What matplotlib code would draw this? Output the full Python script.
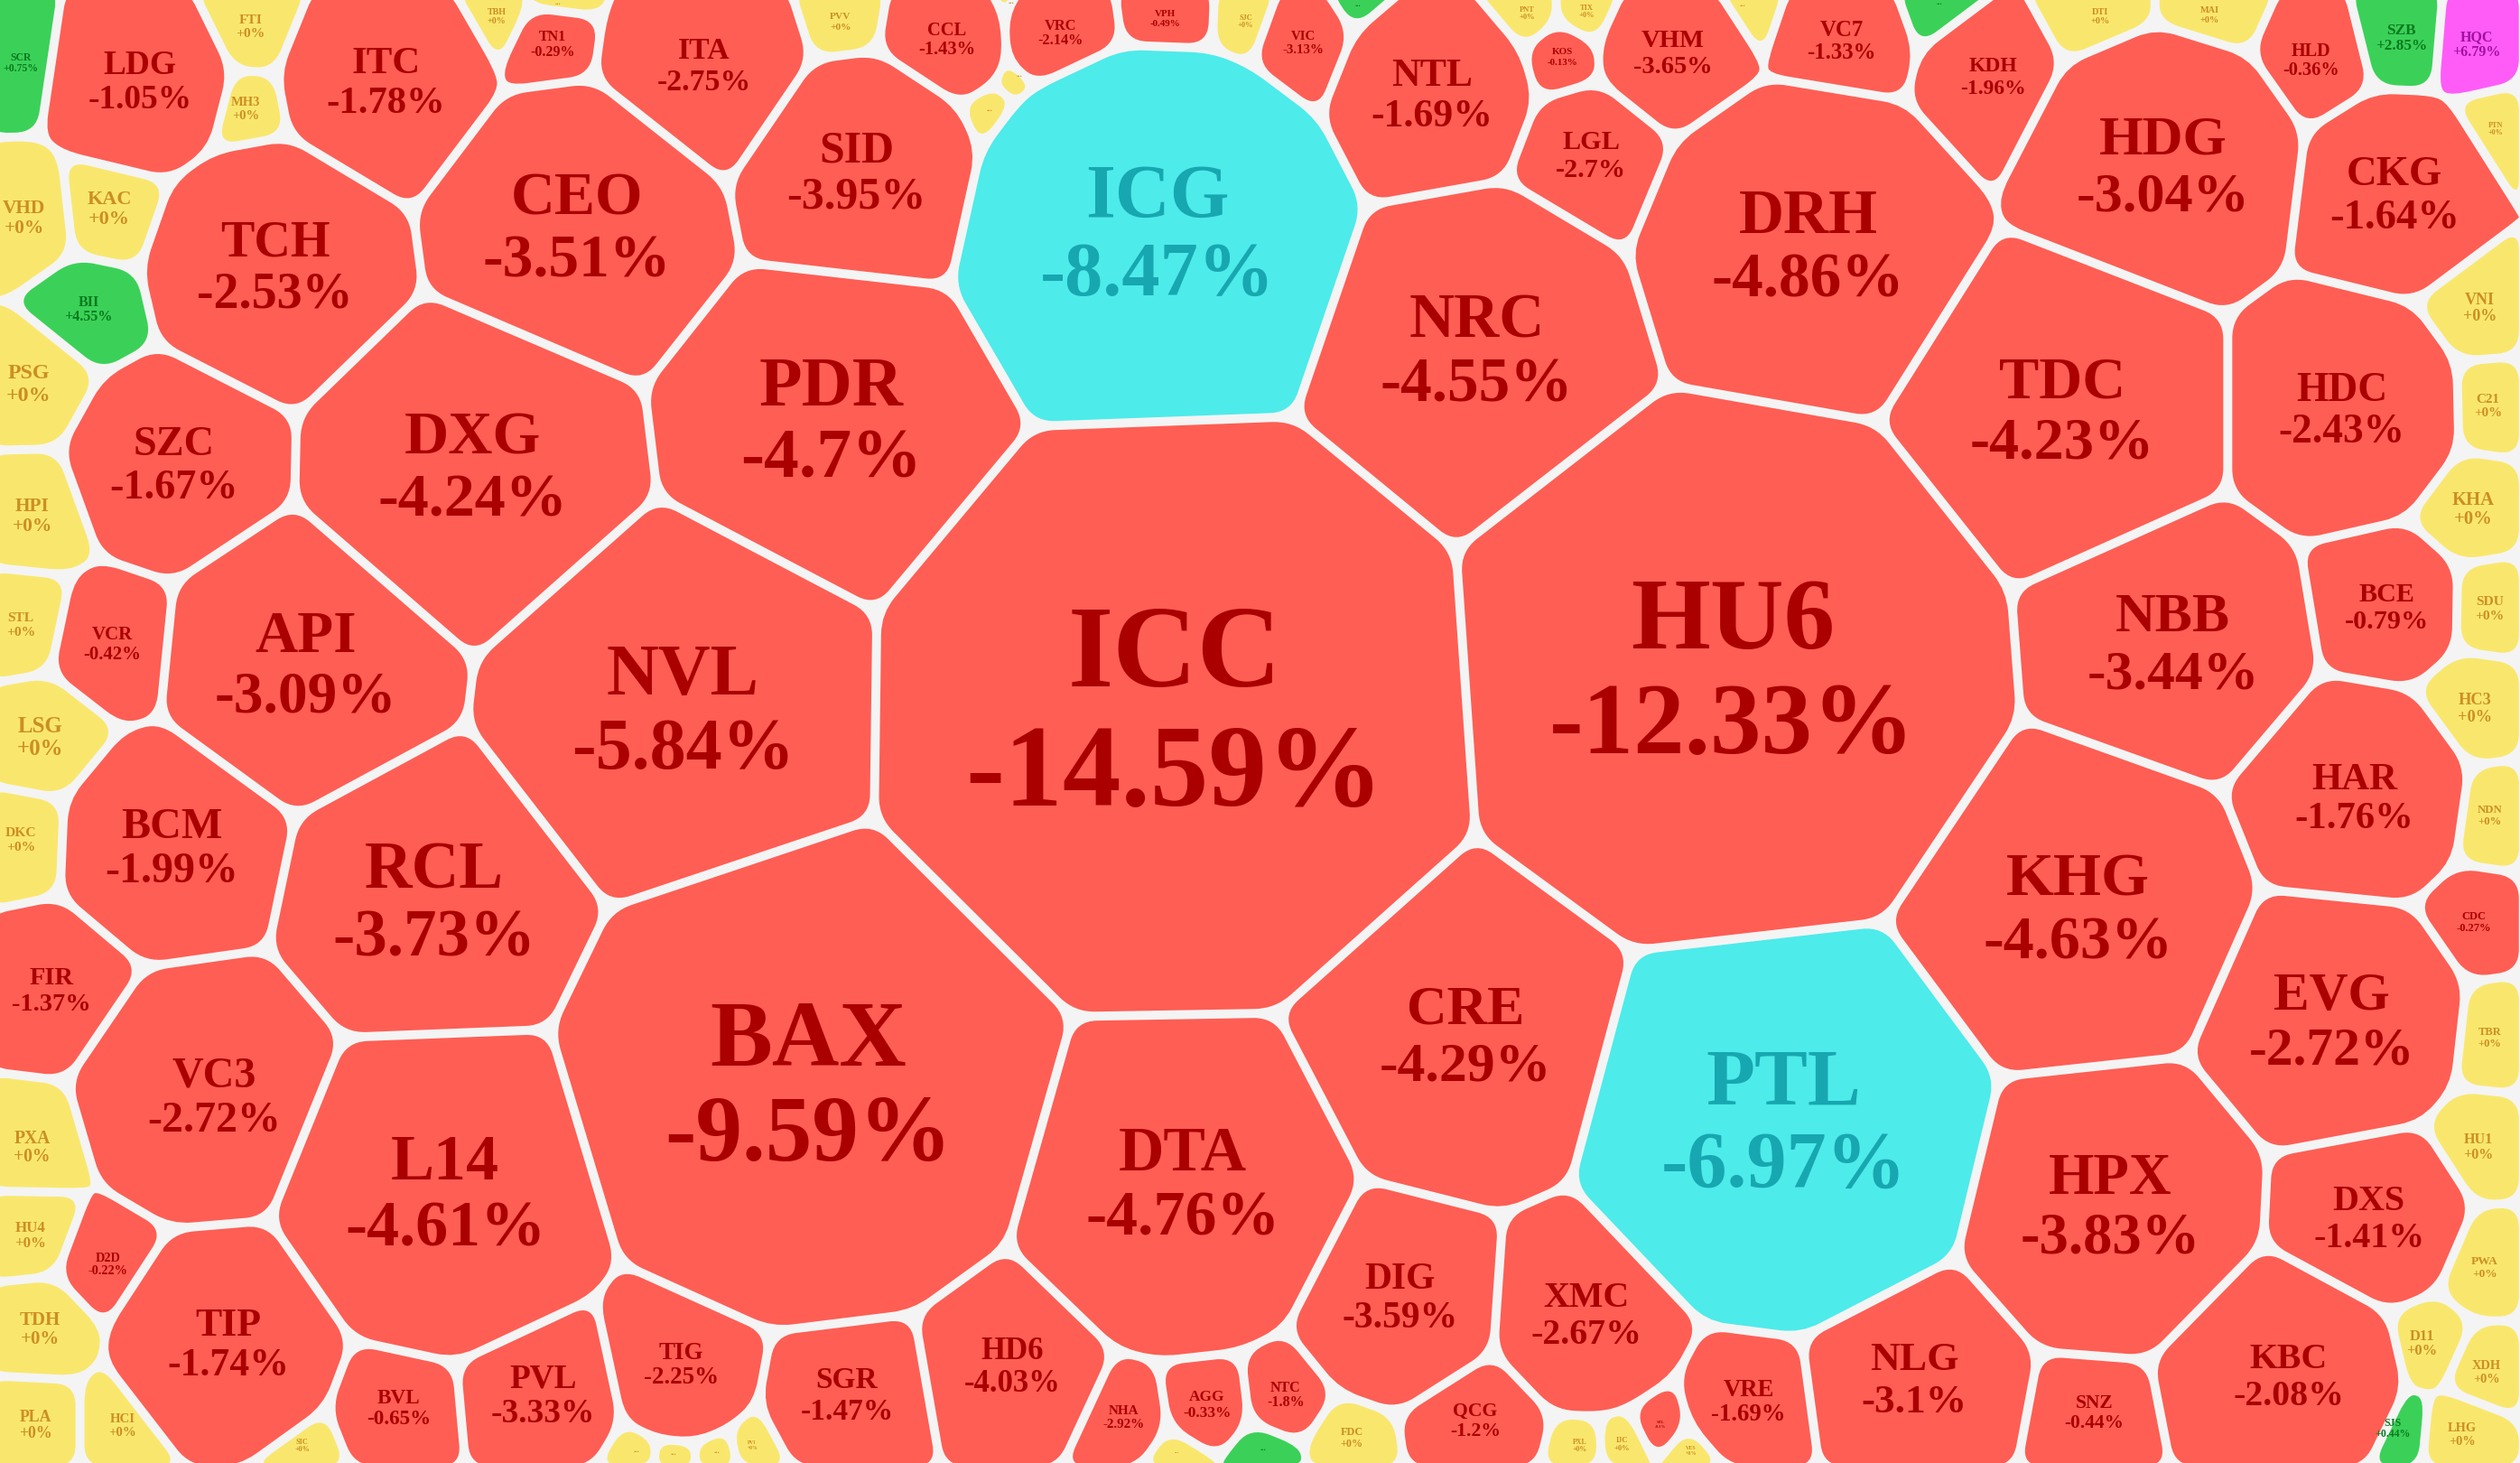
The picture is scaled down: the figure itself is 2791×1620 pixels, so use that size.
import numpy as np
import matplotlib
matplotlib.use("Agg")
import matplotlib.pyplot as plt
from matplotlib.path import Path
from matplotlib.patches import PathPatch

# coordinates below are on a 1568 x 910 sheet, scaled to the 2791 x 1620 output
SHEET_W, SHEET_H = 1568, 910
GAP = 5.6
CORNER = 13

TICKERS = [
    "SCR", "LDG", "FTI", "MH3", "ITC", "TBH", "TN1", "...", "ITA", "PVV", "CCL", "...", "VRC", "...", "...",
    "VPH", "SJC", "VIC", "...", "NTL", "PNT", "TIX", "KOS", "LGL", "VHM", "...", "VC7", "...", "KDH", "DTI",
    "MAI", "HLD", "SZB", "HQC", "PTN", "CKG", "HDG", "DRH", "NRC", "ICG", "SID", "CEO", "TCH", "BII", "VHD",
    "KAC", "PSG", "SZC", "DXG", "PDR", "HPI", "STL", "VCR", "API", "NVL", "ICC", "HU6", "TDC", "HDC", "VNI",
    "C21", "NBB", "BCE", "KHA", "SDU", "HC3", "NDN", "HAR", "KHG", "CDC", "EVG", "TBR", "HU1", "PTL", "CRE",
    "DTA", "BAX", "L14", "RCL", "BCM", "LSG", "DKC", "FIR", "VC3", "PXA", "HU4", "D2D", "TDH", "TIP", "PLA",
    "HCI", "SIC", "BVL", "PVL", "TIG", "...", "...", "...", "PVI", "SGR", "HD6", "NHA", "AGG", "NTC", "...",
    "...", "FDC", "QCG", "DIG", "XMC", "PXL", "IJC", "SZL", "VES", "VRE", "NLG", "SNZ", "KBC", "HPX", "DXS",
    "D11", "PWA", "XDH", "LHG", "SJS",
]

CHANGES = [
    0.75, -1.05, 0, 0, -1.78, 0, -0.29, 0, -2.75, 0, -1.43, 0, -2.14, 0, 0,
    -0.49, 0, -3.13, 0.1, -1.69, 0, 0, -0.13, -2.7, -3.65, 0, -1.33, 0.1, -1.96, 0,
    0, -0.36, 2.85, 6.79, 0, -1.64, -3.04, -4.86, -4.55, -8.47, -3.95, -3.51, -2.53, 4.55, 0,
    0, 0, -1.67, -4.24, -4.7, 0, 0, -0.42, -3.09, -5.84, -14.59, -12.33, -4.23, -2.43, 0,
    0, -3.44, -0.79, 0, 0, 0, 0, -1.76, -4.63, -0.27, -2.72, 0, 0, -6.97, -4.29,
    -4.76, -9.59, -4.61, -3.73, -1.99, 0, 0, -1.37, -2.72, 0, 0, -0.22, 0, -1.74, 0,
    0, 0, -0.65, -3.33, -2.25, 0, 0, 0, 0, -1.47, -4.03, -2.92, -0.33, -1.8, 0,
    0.1, 0, -1.2, -3.59, -2.67, 0, 0, -0.1, 0, -1.69, -3.1, -0.44, -2.08, -3.83, -1.41,
    0, 0, 0, 0, 0.44,
]

FLOOR_TICKERS = ["ICG", "PTL"]
CEILING_TICKERS = ["HQC"]

# label x, label y, font size, cell radius
LAYOUT = [
    (13, 39, 6.6, 15), (87, 50, 21, 55), (156, 16, 8.7, 24), (153, 67, 8.2, 17), (240, 50, 24, 64),
    (309, 10, 5.6, 13), (344, 27, 9, 22), (347, 3, 5, 9), (438, 40, 19, 64), (523, 13, 6.4, 20),
    (589, 24, 11.5, 38), (629, 2, 5, 6), (660, 20, 9.2, 36), (634, 48, 5, 8), (616, 69, 5, 8),
    (725, 11, 6.2, 28), (775, 13, 4.7, 17), (811, 26, 8.4, 28), (845, 4, 5, 8), (891, 58, 24.6, 60),
    (950, 8, 4.7, 14), (987, 7, 4.7, 14), (972, 35, 6.2, 17), (990, 96, 17, 40), (1041, 32, 16, 44),
    (1084, 4, 5, 7), (1146, 25, 14, 36), (1207, 3, 5, 7), (1240, 47, 13.3, 38), (1307, 10, 5.8, 28),
    (1375, 9, 5.8, 28), (1438, 37, 11.4, 32), (1494, 23, 9.7, 24), (1541, 27, 9, 24), (1553, 80, 4.6, 13),
    (1490, 120, 26.3, 60), (1346, 102, 35, 85), (1125, 152, 39, 100), (919, 217, 39, 97), (720, 144, 47.4, 120),
    (533, 106, 28, 72), (359, 140, 38, 88), (171, 165, 31.5, 76), (55, 192, 9, 18), (15, 135, 12, 24),
    (68, 129, 12.5, 22), (18, 238, 13.5, 24), (108, 288, 26, 60), (294, 289, 38.3, 100), (517, 260, 43.7, 100),
    (20, 320, 12, 22), (13, 388, 8.7, 18), (70, 400, 11.7, 30), (190, 412, 36.7, 85), (425, 440, 45, 118),
    (731, 440, 72.6, 185), (1078, 415, 63.5, 170), (1283, 254, 37.3, 100), (1457, 254, 25.6, 72), (1543, 191, 10.1, 23),
    (1548, 252, 8.5, 17), (1352, 399, 34.7, 85), (1485, 377, 16.9, 42), (1539, 316, 11.6, 22), (1549, 378, 8.7, 16),
    (1540, 440, 10.3, 22), (1549, 507, 7.2, 16), (1465, 495, 24, 68), (1293, 564, 38.3, 105), (1539, 573, 7, 18),
    (1451, 634, 33.4, 80), (1549, 645, 7, 15), (1542, 713, 9, 18), (1110, 696, 49.6, 128), (912, 643, 34.7, 98),
    (736, 735, 39.2, 104), (503, 673, 58, 153), (277, 741, 40.5, 104), (270, 560, 41, 90), (107, 526, 27, 65),
    (25, 458, 14, 25), (13, 522, 8.7, 15), (32, 615, 16, 42), (133, 681, 27, 78), (20, 713, 11, 22),
    (19, 768, 9.5, 20), (67, 786, 8, 24), (25, 826, 11.7, 25), (142, 835, 24.6, 70), (22, 886, 10, 22),
    (76, 886, 8.4, 20), (188, 899, 4.6, 15), (248, 875, 13, 38), (338, 867, 21, 50), (424, 848, 15.2, 48),
    (396, 903, 5, 8), (419, 905, 5, 8), (446, 904, 5, 8), (468, 899, 3.1, 9), (527, 867, 18.8, 50),
    (630, 849, 19.5, 55), (699, 881, 8.5, 24), (751, 873, 9.7, 24), (800, 867, 9, 24), (732, 904, 4, 8),
    (786, 902, 5, 12), (841, 894, 6.8, 20), (918, 883, 12.2, 42), (871, 806, 23.4, 66), (987, 817, 22.4, 62),
    (983, 899, 4.4, 12), (1009, 898, 4.7, 12), (1033, 886, 2.7, 12), (1052, 902, 3.4, 10), (1088, 871, 15, 38),
    (1191, 857, 25.5, 66), (1303, 878, 12, 26), (1424, 855, 22.4, 74), (1313, 749, 36.3, 92), (1474, 757, 22.4, 58),
    (1507, 835, 9.3, 22), (1546, 788, 7.5, 22), (1547, 853, 8.1, 18), (1532, 892, 8.1, 20), (1489, 888, 6.7, 17),
]

# cell centres that sit away from their label
SITE_SHIFT = {
    "ICC": (0, 4), "HU6": (0, 5), "TDC": (4, 0), "PDR": (0, 5), "DXG": (0, 3), "VC3": (-4, 0),
    "DTA": (0, 4), "CRE": (0, 4), "PTL": (0, 4), "ICG": (0, 3), "SID": (2, 0), "DIG": (0, 3),
    "NRC": (0, -2), "KBC": (-3, 0), "PVL": (-2, 0),
}

assert len(TICKERS) == len(CHANGES) == len(LAYOUT)


def cell_colours(ticker, change):
    if ticker in FLOOR_TICKERS:
        return "#4DEBEA", "#17A7B0"
    if ticker in CEILING_TICKERS:
        return "#FF5CF7", "#A0109E"
    if change < 0:
        return "#FF5E54", "#AA0000"
    if change > 0:
        return "#3BD158", "#0A7A1E"
    return "#F9E76D", "#CC8E22"


def clip_half_plane(poly, normal, limit):
    # keeps the part of poly where normal . p <= limit
    out = []
    for i in range(len(poly)):
        a, b = poly[i], poly[(i + 1) % len(poly)]
        da, db = a @ normal - limit, b @ normal - limit
        if da <= 0:
            out.append(a)
        if da * db < 0:
            out.append(a + (b - a) * da / (da - db))
    return out


def power_cells(sites, radii):
    box = [np.array(p, float) for p in
           [(-8, -8), (1564.5 + GAP / 2, -8), (1564.5 + GAP / 2, 909 + GAP / 2), (-8, 909 + GAP / 2)]]
    cells = []
    for i, s in enumerate(sites):
        poly = box
        for j, t in enumerate(sites):
            if i == j or not poly:
                continue
            d = t - s
            dist = np.hypot(*d)
            normal = d / dist
            offset = (dist ** 2 + radii[i] ** 2 - radii[j] ** 2) / (2 * dist)
            poly = clip_half_plane(poly, normal, s @ normal + offset - GAP / 2)
        cells.append(np.array(poly))
    return cells


def rounded_path(poly):
    n = len(poly)
    verts, codes = [], []
    for i in range(n):
        prev, cur, nxt = poly[i - 1], poly[i], poly[(i + 1) % n]
        to_prev, to_next = prev - cur, nxt - cur
        len_prev, len_next = np.hypot(*to_prev), np.hypot(*to_next)
        if len_prev < 1e-6 or len_next < 1e-6:
            continue
        start = cur + to_prev / len_prev * min(CORNER, 0.45 * len_prev)
        end = cur + to_next / len_next * min(CORNER, 0.45 * len_next)
        verts.append(start)
        codes.append(Path.LINETO if verts[:-1] else Path.MOVETO)
        verts += [cur, end]
        codes += [Path.CURVE3, Path.CURVE3]
    verts.append(verts[0])
    codes.append(Path.CLOSEPOLY)
    return Path(verts, codes)


def main():
    fig = plt.figure(figsize=(27.91, 16.2), dpi=100, facecolor="#F4F4F4")
    ax = fig.add_axes([0, 0, 1, 1])
    ax.set_xlim(0, SHEET_W)
    ax.set_ylim(SHEET_H, 0)
    ax.axis("off")

    sites = np.array([(x, y) for x, y, _, _ in LAYOUT], float)
    sites += np.array([SITE_SHIFT.get(t, (0, 0)) for t in TICKERS], float)
    radii = np.array([r for _, _, _, r in LAYOUT], float)
    px = 2791 / SHEET_W * 72 / fig.dpi

    for cell, ticker, change, (x, y, font, _) in zip(power_cells(sites, radii), TICKERS, CHANGES, LAYOUT):
        if len(cell) < 3:
            continue
        fill, ink = cell_colours(ticker, change)
        ax.add_patch(PathPatch(rounded_path(cell), facecolor=fill, edgecolor="none"))
        style = dict(ha="center", va="baseline", color=ink, fontsize=font * px,
                     family="Liberation Serif", fontweight="bold")
        if ticker == "...":
            ax.text(x, y, ticker, **style)
            continue
        ax.text(x, y - 0.51 * font + 0.33 * font, ticker, **style)
        ax.text(x, y + 0.51 * font + 0.33 * font, f"{change:+g}%", **style)

    fig.savefig("out.png", dpi=100, facecolor=fig.get_facecolor())


if __name__ == "__main__":
    main()
